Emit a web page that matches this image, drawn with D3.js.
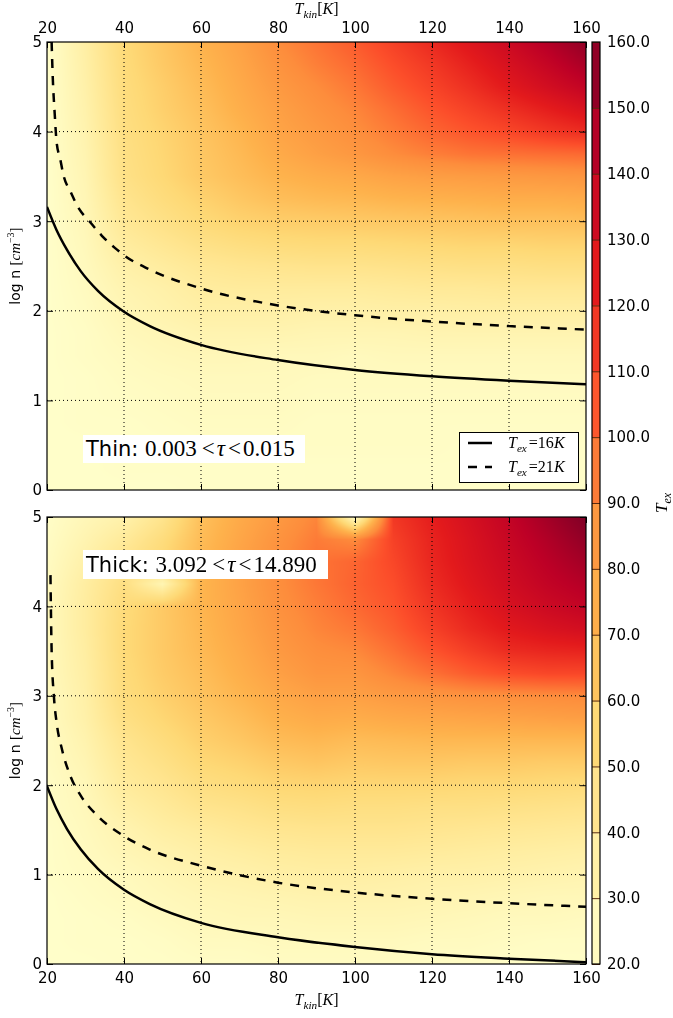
<!DOCTYPE html>
<html>
<head>
<meta charset="utf-8">
<script src="https://cdn.jsdelivr.net/npm/d3@7"></script>
<style>
  html, body { margin: 0; padding: 0; background: #fff; }
  #wrap { position: relative; width: 673px; height: 1018px; }
  canvas, svg { position: absolute; left: 0; top: 0; }
  text { font-family: "DejaVu Sans", sans-serif; }
  .m { font-family: "Liberation Serif", "DejaVu Serif", serif; }
</style>
</head>
<body>
<div id="wrap">
  <canvas id="cv" width="673" height="1018"></canvas>
  <svg id="sv" width="673" height="1018"></svg>
</div>
<script>
// ---------------- DATA ----------------
// Grid axes of the Tex maps
const tkinGrid = [20, 30, 40, 50, 60, 70, 80, 90, 100, 110, 120, 130, 140, 150, 160];
// logn rows from 5 (top) down to 0, step 0.25
const lognGrid = [5, 4.75, 4.5, 4.25, 4, 3.75, 3.5, 3.25, 3, 2.75, 2.5, 2.25, 2, 1.75, 1.5, 1.25, 1, 0.75, 0.5, 0.25, 0];

// Thin case: one array per Tkin column (values at lognGrid)
const thinTex = [
  [21,21,21,21,21,21,21,21,21,21,21,21,21,21,21,21,21,21,21,21,21],
  [36,35,34,33,32,31,30,29,28,27,26,25,24,23,23,22,22,22,21,21,21],
  [54,53,52,51,50,49,48,45,42,38,34,31,29,27,25,24,23,22,22,22,21],
  [63,62,60,59,57,56,55,52,48,43,38,34,32,29,27,25,24,23,22,22,21],
  [72,70,68,66,64,63,62,58,54,48,42,38,35,31,28,26,25,24,23,22,22],
  [80,78,76,74,71,69,67,63,58,51,44,39,35,31,28,26,25,24,23,22,22],
  [90,87,84,81,79,76,72,67,60,53,45,39,35,31,27,26,25,24,23,22,22],
  [97,94,90,87,84,81,75,69,61,54,46,39,34,30,27,25,24,23,23,22,22],
  [104,100,96,92,89,85,77,70,62,54,46,39,34,30,26,25,24,23,23,22,22],
  [112,108,104,99,95,90,80,72,63,55,47,40,35,30,27,25,24,23,23,22,22],
  [120,115,111,106,101,94,82,73,64,56,48,41,35,31,27,25,24,23,23,22,22],
  [128,123,118,112,106,97,83,74,65,57,49,41,36,31,27,25,24,23,22,22,22],
  [136,131,126,118,110,98,84,75,66,57,49,42,36,31,27,25,24,23,22,22,22],
  [145,139,133,124,115,99,85,75,66,58,50,42,36,31,27,25,24,23,22,22,22],
  [155,148,140,130,119,100,86,76,67,58,50,42,36,31,27,25,24,23,22,22,22]
];

// Thick case
const thickTex = [
  [22,23,24,25,26,26,26,26,25,25,24,24,23,23,22,22,22,21,21,21,21],
  [28,31,34,37,38,38,37,36,35,34,32,30,28,27,26,25,24,23,22,22,21],
  [33,40,46,50,53,54,54,53,52,49,45,42,39,35,31,29,26,25,23,22,22],
  [45,52,56,30,62,62,62,61,59,56,52,48,44,40,36,32,29,27,25,23,22],
  [66,68,70,71,71,70,69,67,65,62,59,55,50,45,39,35,32,29,27,25,23],
  [76,78,80,80,79,78,76,74,71,67,63,58,53,47,42,37,33,30,28,25,23],
  [84,87,89,89,88,86,84,81,77,73,68,62,56,50,44,39,35,31,28,26,24],
  [92,95,97,96,94,92,89,86,81,76,70,64,57,51,45,40,36,32,29,26,24],
  [22,90,101,102,100,96,91,86,81,75,68,62,56,50,45,40,36,32,29,26,24],
  [115,112,110,108,106,103,98,92,84,77,69,63,56,50,45,40,35,32,29,26,24],
  [124,122,121,119,116,112,106,98,86,78,70,63,56,49,44,39,34,31,28,25,23],
  [132,130,129,127,124,120,113,104,88,79,70,62,55,49,43,38,34,30,27,25,23],
  [140,138,136,134,131,126,119,108,89,80,70,62,55,48,42,37,33,29,26,24,22],
  [150,146,143,140,136,130,121,110,90,81,70,61,54,47,41,36,32,28,26,23,22],
  [160,155,150,145,140,133,122,110,91,82,70,61,53,46,40,35,31,28,25,23,22]
];

// Contour lines [Tkin, logn]
const thin16 = [[20,3.16],[22.5,2.90],[25.2,2.68],[28.8,2.44],[33.3,2.22],[40,1.99],[46.7,1.83],[60,1.62],[80,1.45],[100,1.34],[120,1.27],[140,1.22],[160,1.18]];
const thin21 = [[21.2,5],[21.5,4.6],[22.0,4.2],[22.5,3.88],[23.4,3.70],[24.3,3.51],[26.1,3.33],[28.3,3.14],[31,3],[34.2,2.84],[37.7,2.70],[40,2.62],[46.7,2.46],[60,2.25],[80,2.06],[100,1.95],[120,1.88],[140,1.83],[160,1.79]];
const thick16 = [[20,1.99],[22.5,1.73],[25.2,1.51],[28.8,1.28],[33.3,1.06],[40,0.83],[46.7,0.67],[60,0.46],[80,0.30],[100,0.19],[120,0.11],[140,0.06],[160,0.02]];
const thick21 = [[20.9,4.35],[21.2,3.51],[21.8,2.99],[22.5,2.70],[23.9,2.40],[26.1,2.10],[28.8,1.88],[33.3,1.65],[40,1.43],[46.7,1.28],[60,1.10],[80,0.91],[100,0.80],[120,0.73],[140,0.68],[160,0.64]];

const xTicks = [20, 40, 60, 80, 100, 120, 140, 160];
const yTicks = [0, 1, 2, 3, 4, 5];
const cbTicks = [20, 30, 40, 50, 60, 70, 80, 90, 100, 110, 120, 130, 140, 150, 160];

// ---------------- LAYOUT ----------------
const X0 = 47, X1 = 586;
const panels = [
  { y0: 42, y1: 490, grid: thinTex, l16: thin16, l21: thin21, top: true,
    label: ["Thin: ", "0.003", "τ", "0.015"], box: [83, 435, 222, 28] },
  { y0: 517, y1: 964, grid: thickTex, l16: thick16, l21: thick21, top: false,
    label: ["Thick: ", "3.092", "τ", "14.890"], box: [83, 550, 245, 29] }
];
const CB = { x0: 592, x1: 600, y0: 42, y1: 964 };

const ylorrd = ["#ffffcc","#ffeda0","#fed976","#feb24c","#fd8d3c","#fc4e2a","#e31a1c","#bd0026","#800026"];
const cmap = d3.scaleLinear()
  .domain(d3.range(9).map(i => 20 + i * 140 / 8))
  .range(ylorrd).interpolate(d3.interpolateRgb).clamp(true);

const x = d3.scaleLinear().domain([20, 160]).range([X0, X1]);

// ---------------- HEATMAPS (canvas) ----------------
const ctx = document.getElementById("cv").getContext("2d");
ctx.fillStyle = "#fff";
ctx.fillRect(0, 0, 673, 1018);

const lut = d3.range(0, 1401).map(k => d3.rgb(cmap(20 + k / 10)));

panels.forEach(p => {
  p.y = d3.scaleLinear().domain([0, 5]).range([p.y1, p.y0]);
  const colIdx = d3.scaleLinear().domain([tkinGrid[0], tkinGrid[tkinGrid.length - 1]]).range([0, tkinGrid.length - 1]);
  const rowIdx = d3.scaleLinear().domain([lognGrid[0], lognGrid[lognGrid.length - 1]]).range([0, lognGrid.length - 1]);
  const w = X1 - X0, h = p.y1 - p.y0;
  const img = ctx.createImageData(w, h);
  const g = p.grid, nc = tkinGrid.length, nr = lognGrid.length;
  for (let j = 0; j < h; j++) {
    const r = Math.max(0, Math.min(nr - 1.0001, rowIdx(p.y.invert(p.y0 + j + 0.5))));
    const r0 = Math.floor(r), fr = r - r0;
    for (let i = 0; i < w; i++) {
      const c = Math.max(0, Math.min(nc - 1.0001, colIdx(x.invert(X0 + i + 0.5))));
      const c0 = Math.floor(c), fc = c - c0;
      const v = (g[c0][r0] * (1 - fc) + g[c0 + 1][r0] * fc) * (1 - fr)
              + (g[c0][r0 + 1] * (1 - fc) + g[c0 + 1][r0 + 1] * fc) * fr;
      const k = Math.max(0, Math.min(1400, Math.round((v - 20) * 10)));
      const col = lut[k];
      const o = (j * w + i) * 4;
      img.data[o] = col.r; img.data[o + 1] = col.g; img.data[o + 2] = col.b; img.data[o + 3] = 255;
    }
  }
  ctx.putImageData(img, X0, p.y0);
});

// ---------------- SVG ----------------
const svg = d3.select("#sv");
const fmtInt = d3.format("d");

function mathSub(t, base, sub, size) {
  t.append("tspan").attr("class", "m").attr("font-style", "italic").attr("font-size", size).text(base);
  t.append("tspan").attr("class", "m").attr("font-style", "italic").attr("font-size", size * 0.7).attr("dy", size * 0.25).text(sub);
  return t.append("tspan").attr("class", "m").attr("font-size", size).attr("dy", -size * 0.25);
}

panels.forEach((p, pi) => {
  const g = svg.append("g");
  const y = p.y;

  // grid lines
  g.append("g").selectAll("line").data(xTicks.slice(1, -1)).join("line")
    .attr("x1", d => x(d)).attr("x2", d => x(d)).attr("y1", p.y0).attr("y2", p.y1)
    .attr("stroke", "#000").attr("stroke-width", 1).attr("stroke-dasharray", "1,3");
  g.append("g").selectAll("line").data(yTicks.slice(1, -1)).join("line")
    .attr("y1", d => y(d)).attr("y2", d => y(d)).attr("x1", X0).attr("x2", X1)
    .attr("stroke", "#000").attr("stroke-width", 1).attr("stroke-dasharray", "1,3");

  // contour lines
  const clipId = "clip" + pi;
  svg.append("clipPath").attr("id", clipId).append("rect")
    .attr("x", X0).attr("y", p.y0).attr("width", X1 - X0).attr("height", p.y1 - p.y0);
  const line = d3.line().x(d => x(d[0])).y(d => y(d[1])).curve(d3.curveMonotoneX);
  g.append("path").attr("d", line(p.l16)).attr("fill", "none").attr("stroke", "#000")
    .attr("stroke-width", 2.5).attr("clip-path", `url(#${clipId})`);
  g.append("path").attr("d", line(p.l21)).attr("fill", "none").attr("stroke", "#000")
    .attr("stroke-width", 2.5).attr("stroke-dasharray", "9,8").attr("clip-path", `url(#${clipId})`);

  // axes (ticks inward)
  const axT = g.append("g").attr("transform", `translate(0,${p.y0})`)
    .call(d3.axisTop(x).tickValues(xTicks).tickSize(-6).tickPadding(9).tickFormat(p.top ? fmtInt : () => ""));
  const axB = g.append("g").attr("transform", `translate(0,${p.y1})`)
    .call(d3.axisBottom(x).tickValues(xTicks).tickSize(-6).tickPadding(8).tickFormat(p.top ? () => "" : fmtInt));
  const axL = g.append("g").attr("transform", `translate(${X0},0)`)
    .call(d3.axisLeft(y).tickValues(yTicks).tickSize(-6).tickPadding(5).tickFormat(fmtInt));
  const axR = g.append("g").attr("transform", `translate(${X1},0)`)
    .call(d3.axisRight(y).tickValues(yTicks).tickSize(-6).tickFormat(() => ""));
  [axT, axB, axL, axR].forEach(a => {
    a.select(".domain").remove();
    a.selectAll("text").attr("font-size", 15).attr("fill", "#000").style("font-family", "DejaVu Sans");
    a.selectAll("line").attr("stroke", "#000");
  });

  // frame
  g.append("rect").attr("x", X0).attr("y", p.y0).attr("width", X1 - X0).attr("height", p.y1 - p.y0)
    .attr("fill", "none").attr("stroke", "#000").attr("stroke-width", 1.2);

  // y label
  const yl = g.append("text").attr("transform", `translate(20,${(p.y0 + p.y1) / 2}) rotate(-90)`)
    .attr("text-anchor", "middle").attr("font-size", 14);
  yl.append("tspan").text("log n ");
  yl.append("tspan").attr("class", "m").attr("font-size", 15).text("[");
  yl.append("tspan").attr("class", "m").attr("font-style", "italic").attr("font-size", 15).text("cm");
  yl.append("tspan").attr("class", "m").attr("font-size", 10).attr("dy", -6).text("−3");
  yl.append("tspan").attr("class", "m").attr("font-size", 15).attr("dy", 6).text("]");

  // case label
  const [bx, by, bw, bh] = p.box;
  g.append("rect").attr("x", bx).attr("y", by).attr("width", bw).attr("height", bh).attr("fill", "#fff");
  const lt = g.append("text").attr("x", bx + 3).attr("y", by + bh - 7).attr("font-size", 21);
  lt.append("tspan").text(p.label[0]);
  lt.append("tspan").attr("class", "m").attr("font-size", 23).text(p.label[1]);
  lt.append("tspan").attr("class", "m").attr("font-size", 23).attr("dx", 5).text("<");
  lt.append("tspan").attr("class", "m").attr("font-size", 23).attr("dx", 2).attr("font-style", "italic").text(p.label[2]);
  lt.append("tspan").attr("class", "m").attr("font-size", 23).attr("dx", 3).text("<");
  lt.append("tspan").attr("class", "m").attr("font-size", 23).attr("dx", 2).text(p.label[3]);
});

// x labels (top and bottom)
[14, 1005].forEach(yy => {
  const t = svg.append("text").attr("x", (X0 + X1) / 2).attr("y", yy).attr("text-anchor", "middle");
  const r = mathSub(t, "T", "kin", 16);
  r.text("[");
  t.append("tspan").attr("class", "m").attr("font-style", "italic").attr("font-size", 16).text("K");
  t.append("tspan").attr("class", "m").attr("font-size", 16).text("]");
});

// legend (top panel)
{
  const lg = svg.append("g");
  lg.append("rect").attr("x", 459.5).attr("y", 432.5).attr("width", 119).attr("height", 50)
    .attr("fill", "#fff").attr("stroke", "#000").attr("stroke-width", 1);
  const items = [["16", null, 443], ["21", "9,8", 467]];
  items.forEach(([val, dash, yy]) => {
    lg.append("line").attr("x1", 468).attr("x2", 492).attr("y1", yy).attr("y2", yy)
      .attr("stroke", "#000").attr("stroke-width", 2.5).attr("stroke-dasharray", dash);
    const t = lg.append("text").attr("x", 508).attr("y", yy + 5);
    const r = mathSub(t, "T", "ex", 16);
    r.attr("dx", 2).text("=" + val);
    t.append("tspan").attr("class", "m").attr("font-style", "italic").attr("font-size", 16).text("K");
  });
}

// colorbar
{
  const cy = d3.scaleLinear().domain([20, 160]).range([CB.y1, CB.y0]);
  const bands = d3.pairs(cbTicks);
  svg.append("g").selectAll("rect").data(bands).join("rect")
    .attr("x", CB.x0).attr("width", CB.x1 - CB.x0)
    .attr("y", d => cy(d[1])).attr("height", d => cy(d[0]) - cy(d[1]))
    .attr("fill", d => cmap((d[0] + d[1]) / 2)).attr("shape-rendering", "crispEdges");
  const ax = svg.append("g").attr("transform", `translate(${CB.x1},0)`)
    .call(d3.axisRight(cy).tickValues(cbTicks).tickSize(-(CB.x1 - CB.x0)).tickPadding(7).tickFormat(d3.format(".1f")));
  ax.select(".domain").remove();
  ax.selectAll("line").attr("stroke", "#5a2a10").attr("stroke-width", 1);
  ax.selectAll("text").attr("font-size", 15).attr("fill", "#000").style("font-family", "DejaVu Sans");
  svg.append("rect").attr("x", CB.x0).attr("y", CB.y0).attr("width", CB.x1 - CB.x0).attr("height", CB.y1 - CB.y0)
    .attr("fill", "none").attr("stroke", "#000").attr("stroke-width", 1.2);
  const t = svg.append("text").attr("transform", `translate(667,${(CB.y0 + CB.y1) / 2}) rotate(-90)`)
    .attr("text-anchor", "middle");
  mathSub(t, "T", "ex", 17);
}
</script>
</body>
</html>
